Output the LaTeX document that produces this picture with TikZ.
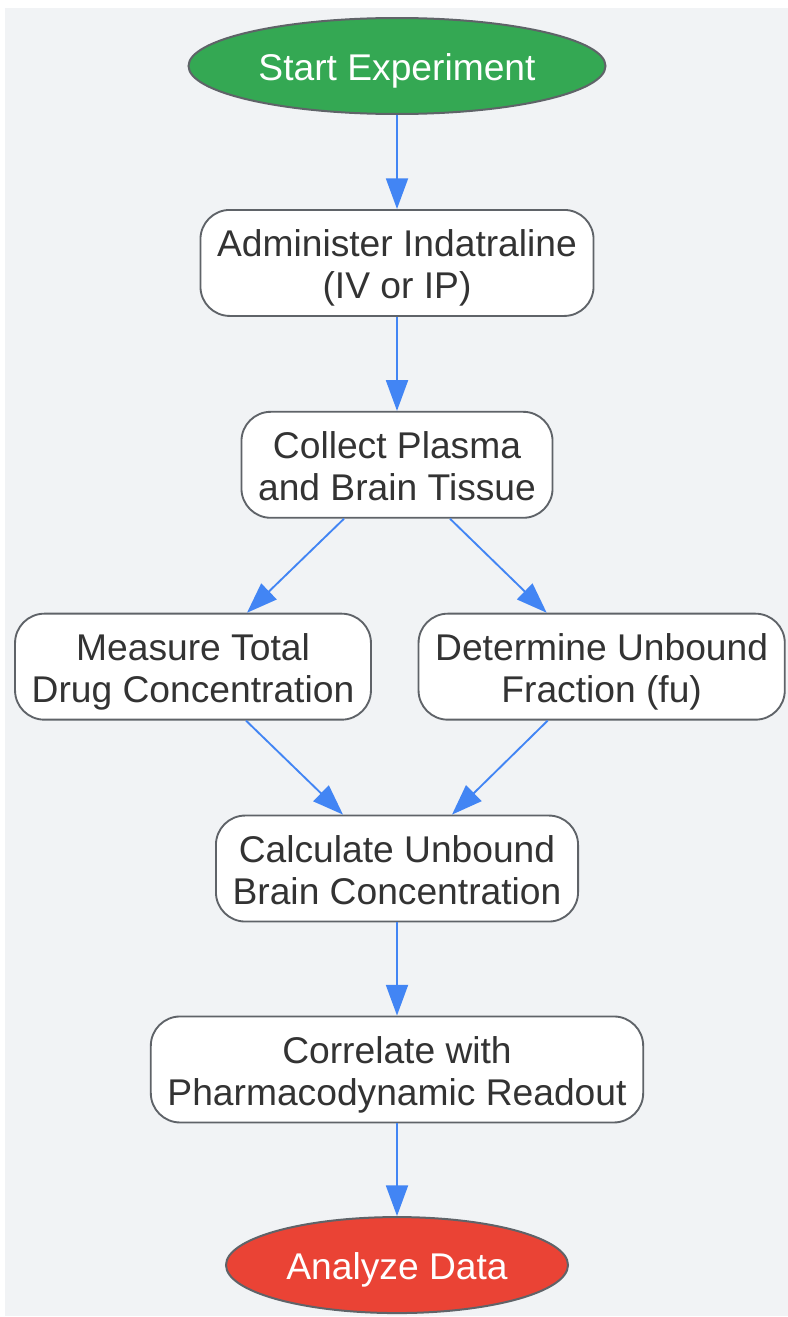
\documentclass[tikz,border=0pt]{standalone}
\usepackage{fontspec}
\setmainfont{Liberation Sans}
\usepackage{tikz}
\usetikzlibrary{arrows.meta,shapes.geometric,positioning,calc}
\definecolor{bgpanel}{HTML}{F1F3F5}
\definecolor{edgegray}{HTML}{5F6368}
\definecolor{linkblue}{HTML}{4285F4}
\definecolor{startgreen}{HTML}{34A853}
\definecolor{endred}{HTML}{EA4335}
\definecolor{txtdark}{HTML}{333333}

\begin{document}
\begin{tikzpicture}[x=0.75pt,y=0.75pt]
\tikzstyle{every node}=[font=\fontsize{27.9}{31.5}\selectfont, align=center]
\tikzstyle{terminal}=[ellipse, draw=edgegray, line width=1.5pt, text=white, minimum height=72pt, inner sep=0pt, execute at begin node={\rule[-6pt]{0pt}{34pt}}]
\tikzstyle{stepbox}=[rectangle, rounded corners=22pt, draw=edgegray, line width=1.4pt, fill=white, text=txtdark, minimum height=79.5pt, inner xsep=12.5pt, inner ysep=0pt, execute at begin node={\rule[-6pt]{0pt}{66pt}}]
\tikzstyle{link}=[draw=linkblue, line width=1.4pt, -{Triangle[length=23pt,width=16.5pt]}]

\useasboundingbox (0,0) rectangle (788,-1317);
\fill[bgpanel] (5,-8) rectangle (788,-1316);

\node[terminal, fill=startgreen, minimum width=312.75pt] (start) at (397,-66) {Start Experiment};
\node[stepbox, below=70.5pt of start] (administer) {Administer Indatraline\\(IV or IP)};
\node[stepbox, below=70.5pt of administer] (collect) {Collect Plasma\\and Brain Tissue};
\node[stepbox, below=70.5pt of collect, xshift=-153pt] (measure) {Measure Total\\Drug Concentration};
\node[stepbox, below=70.5pt of collect, xshift=153.5pt] (fraction) {Determine Unbound\\Fraction (fu)};
\node[stepbox, below=70.5pt of measure, xshift=153pt] (calculate) {Calculate Unbound\\Brain Concentration};
\node[stepbox, below=69.8pt of calculate] (correlate) {Correlate with\\Pharmacodynamic Readout};
\node[terminal, fill=endred, minimum width=256.5pt, below=69.5pt of correlate] (analyze) {Analyze Data};

\path[link] (start) -- (administer);
\path[link] (administer) -- (collect);
\path[link] ($(collect.south)+(-53,0)$) -- ($(measure.north)+(54,0)$);
\path[link] ($(collect.south)+(53,0)$) -- ($(fraction.north)+(-55,0)$);
\path[link] ($(measure.south)+(53,0)$) -- ($(calculate.north)+(-54,0)$);
\path[link] ($(fraction.south)+(-54,0)$) -- ($(calculate.north)+(55,0)$);
\path[link] (calculate) -- (correlate);
\path[link] (correlate) -- (analyze);
\end{tikzpicture}
\end{document}
